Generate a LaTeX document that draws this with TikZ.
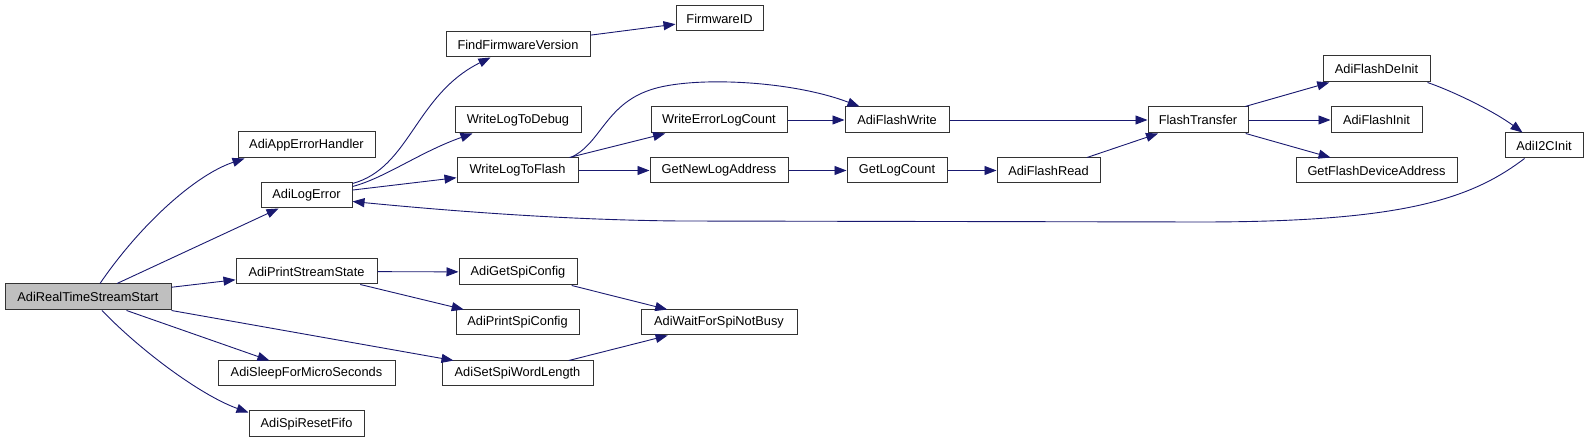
\documentclass[tikz,border=0pt]{standalone}
\usepackage{fontspec}
\setmainfont{Liberation Sans}
\usetikzlibrary{arrows.meta,calc}
\definecolor{edgecol}{RGB}{25,25,112}
\definecolor{startfill}{RGB}{191,191,191}
\begin{document}
\begin{tikzpicture}[x=1pt,y=-1pt,
  box/.style={draw=black!80, line width=1pt, rectangle, minimum height=25pt,
    inner sep=0pt, font=\fontsize{12.8}{15}\selectfont, fill=white},
  edge/.style={draw=edgecol, line width=0.9pt, -{Triangle[length=12pt,width=9pt]}},
]
\useasboundingbox (0,0) rectangle (1588,443);
% nodes
\node[box, fill=startfill, minimum width=166pt, minimum height=26pt] (start) at (88,297) {AdiRealTimeStreamStart};
\node[box, minimum width=137pt, minimum height=26pt] (apperr) at (306.5,145) {AdiAppErrorHandler};
\node[box, minimum width=91pt] (logerr) at (306.5,195.5) {AdiLogError};
\node[box, minimum width=141pt] (printss) at (306.5,271.5) {AdiPrintStreamState};
\node[box, minimum width=177pt] (sleep) at (306.5,373.5) {AdiSleepForMicroSeconds};
\node[box, minimum width=115pt, minimum height=26pt] (fifo) at (306.5,424) {AdiSpiResetFifo};
\node[box, minimum width=144pt] (findfw) at (518,44.5) {FindFirmwareVersion};
\node[box, minimum width=87pt] (fwid) at (719.5,18.5) {FirmwareID};
\node[box, minimum width=126pt, minimum height=26pt] (wldebug) at (518,120) {WriteLogToDebug};
\node[box, minimum width=121pt] (wlflash) at (517.5,170.5) {WriteLogToFlash};
\node[box, minimum width=118pt, minimum height=26pt] (getspi) at (518,272) {AdiGetSpiConfig};
\node[box, minimum width=123pt] (printspi) at (517.5,322.5) {AdiPrintSpiConfig};
\node[box, minimum width=151pt] (setspi) at (517.5,373.5) {AdiSetSpiWordLength};
\node[box, minimum width=136pt, minimum height=26pt] (werrcount) at (719,120) {WriteErrorLogCount};
\node[box, minimum width=138pt] (newlog) at (719,170.5) {GetNewLogAddress};
\node[box, minimum width=156pt] (waitspi) at (719,322.5) {AdiWaitForSpiNotBusy};
\node[box, minimum width=104pt, minimum height=26pt] (flashwrite) at (897,120) {AdiFlashWrite};
\node[box, minimum width=100pt] (logcount) at (897,170.5) {GetLogCount};
\node[box, minimum width=103pt] (flashread) at (1048.5,170.5) {AdiFlashRead};
\node[box, minimum width=100pt, minimum height=26pt] (transfer) at (1198,120) {FlashTransfer};
\node[box, minimum width=107pt, minimum height=26pt] (deinit) at (1376.5,69) {AdiFlashDeInit};
\node[box, minimum width=91pt, minimum height=26pt] (init) at (1376.5,120) {AdiFlashInit};
\node[box, minimum width=161pt] (devaddr) at (1376.5,170.5) {GetFlashDeviceAddress};
\node[box, minimum width=78pt] (i2c) at (1544,145.5) {AdiI2CInit};
% edges
\draw[edge] ($(start.north)+(12,0)$) .. controls (140,225) and (195,175) .. ($(apperr.south west)+(7,0)$);
\draw[edge] (start) -- (logerr);
\draw[edge] (start) -- (printss);
\draw[edge] (start) -- (sleep);
\draw[edge] ($(start.south)+(14,0)$) .. controls (140,350) and (200,395) .. ($(fifo.north west)+(0,2)$);
\draw[edge] (start.south east) -- ($(setspi.north west)+(12,0)$);
\draw[edge] ($(logerr.north east)+(0,1)$) .. controls (410,168) and (415,95) .. ($(findfw.south west)+(45,0)$);
\draw[edge] ($(logerr.north east)+(0,4)$) .. controls (385,178) and (420,152) .. ($(wldebug.south west)+(18,0)$);
\draw[edge] (logerr) -- (wlflash);
\draw[edge] ($(wlflash.north east)+(-8,0)$) .. controls (600,145) and (605,105) .. (650,90)
  .. controls (690,76) and (790,80) .. ($(flashwrite.north west)+(15,0)$);
\draw[edge] (wlflash) -- (werrcount);
\draw[edge] (wlflash) -- (newlog);
\draw[edge] (werrcount) -- (flashwrite);
\draw[edge] (newlog) -- (logcount);
\draw[edge] (logcount) -- (flashread);
\draw[edge] (flashread) -- (transfer);
\draw[edge] (flashwrite) -- (transfer);
\draw[edge] (transfer) -- (deinit);
\draw[edge] (transfer) -- (init);
\draw[edge] (transfer) -- (devaddr);
\draw[edge] ($(deinit.south east)+(-3,0)$) .. controls (1455,92) and (1495,112) .. ($(i2c.north west)+(18,0)$);
\draw[edge] ($(i2c.south west)+(20,0)$) .. controls (1470,200) and (1400,222) .. (1200,222)
  -- (680,221) .. controls (560,220) and (440,210) .. ($(logerr.east)+(0,6)$);
\draw[edge] (findfw) -- (fwid);
\draw[edge] (printss) -- (getspi);
\draw[edge] (printss) -- (printspi);
\draw[edge] (getspi) -- (waitspi);
\draw[edge] (setspi) -- (waitspi);
\end{tikzpicture}
\end{document}
